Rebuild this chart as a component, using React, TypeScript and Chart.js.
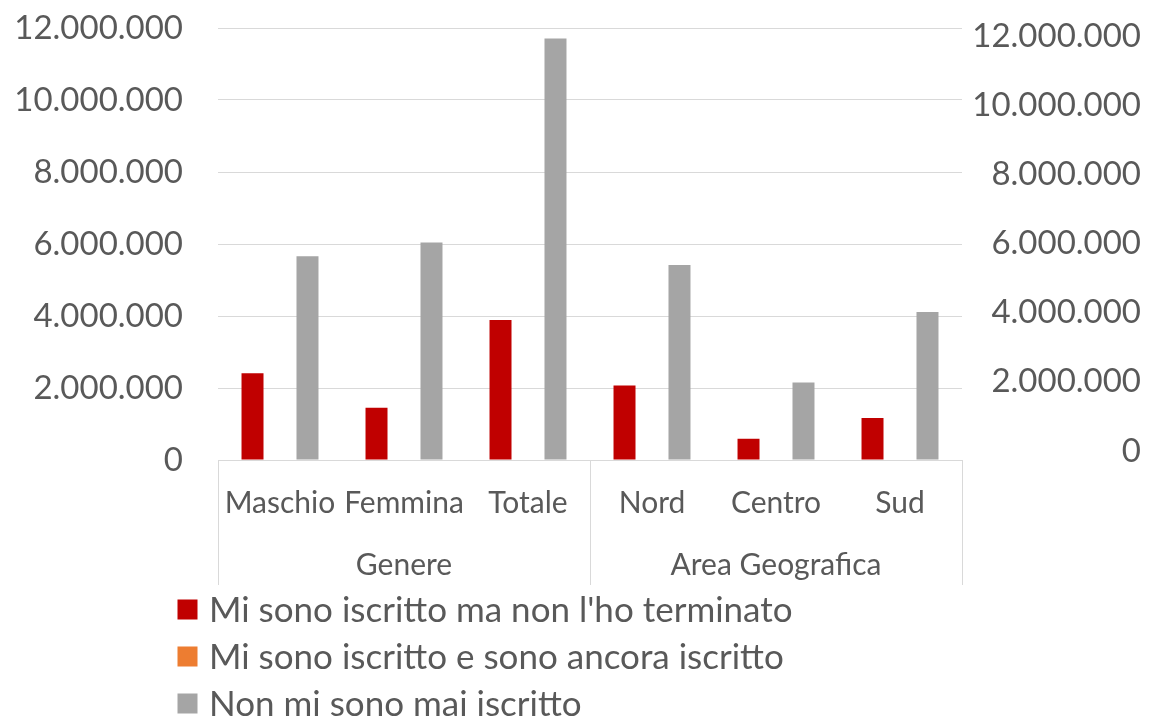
import React, { useEffect, useRef } from "react";
import { Chart, registerables } from "chart.js";

Chart.register(...registerables);

// ---- data ----
const categories = ["Maschio", "Femmina", "Totale", "Nord", "Centro", "Sud"];
const groupLabels = ["Genere", "Area Geografica"];
const groupSizes = [3, 3];
const seriesNames = [
  "Mi sono iscritto ma non l'ho terminato",
  "Mi sono iscritto e sono ancora iscritto",
  "Non mi sono mai iscritto",
];
const notFinished = [2410000, 1450000, 3890000, 2070000, 590000, 1170000];
const stillEnrolled = [0, 0, 0, 0, 0, 0];
const neverEnrolled = [5660000, 6040000, 11710000, 5420000, 2150000, 4110000];
const leftTicks = [0, 2000000, 4000000, 6000000, 8000000, 10000000, 12000000];
const rightTicks = [0, 2000000, 4000000, 6000000, 8000000, 10000000, 12000000];

// ---- styles ----
const FONT = "Lato";
const TEXT = "#595959";
const LINE = "#D9D9D9";
const CLEAR = "rgba(0,0,0,0)";
const COLORS = ["#C00000", "#ED7D31", "#A5A5A5"];

const fmt = (v: number) =>
  String(Math.round(v)).replace(/\B(?=(\d{3})+(?!\d))/g, ".");

const groupPlugin = {
  id: "groupAxis",
  afterDraw(chart: any) {
    const ctx = chart.ctx;
    const xs = chart.scales.x;
    const area = chart.chartArea;
    const cw = (xs.right - xs.left) / categories.length;
    ctx.save();
    ctx.strokeStyle = LINE;
    ctx.lineWidth = 1;
    let start = 0;
    const bounds: number[] = [start];
    groupSizes.forEach((n) => {
      start += n;
      bounds.push(start);
    });
    bounds.forEach((b) => {
      const px = Math.round(xs.left + b * cw) + 0.5;
      ctx.beginPath();
      ctx.moveTo(px, area.bottom);
      ctx.lineTo(px, xs.bottom);
      ctx.stroke();
    });
    ctx.fillStyle = TEXT;
    ctx.font = `30px ${FONT}`;
    ctx.textAlign = "center";
    ctx.textBaseline = "middle";
    groupLabels.forEach((g, i) => {
      const l = xs.left + bounds[i] * cw;
      const r = xs.left + bounds[i + 1] * cw;
      ctx.fillText(g, (l + r) / 2, 565);
    });
    ctx.restore();
  },
};

const legendPlugin = {
  id: "stackLegend",
  afterDraw(chart: any) {
    const ctx = chart.ctx;
    ctx.save();
    ctx.font = `35px ${FONT}`;
    ctx.textAlign = "left";
    ctx.textBaseline = "middle";
    chart.data.datasets.forEach((ds: any, i: number) => {
      const cy = 609.5 + i * 47;
      ctx.fillStyle = ds.backgroundColor;
      ctx.fillRect(177.5, cy - 10, 20, 20);
      ctx.fillStyle = TEXT;
      ctx.fillText(ds.label, 209, cy + 1);
    });
    ctx.restore();
  },
};

export default function App() {
  const ref = useRef<HTMLCanvasElement | null>(null);

  useEffect(() => {
    if (!ref.current) return;
    const chart = new Chart(ref.current, {
      type: "bar",
      data: {
        labels: categories,
        datasets: [
          {
            label: seriesNames[0],
            data: notFinished,
            backgroundColor: COLORS[0],
            yAxisID: "y",
          },
          {
            label: seriesNames[1],
            data: stillEnrolled,
            backgroundColor: COLORS[1],
            yAxisID: "y2",
          },
          {
            label: seriesNames[2],
            data: neverEnrolled,
            backgroundColor: COLORS[2],
            yAxisID: "y",
          },
        ],
      },
      options: {
        responsive: false,
        animation: false,
        devicePixelRatio: 1,
        layout: { padding: { left: 0, right: 8, top: 28, bottom: 132 } },
        datasets: {
          bar: { categoryPercentage: 0.665, barPercentage: 0.8, borderWidth: 0 },
        },
        plugins: {
          legend: { display: false },
          tooltip: { enabled: false },
        },
        scales: {
          x: {
            grid: { display: false, drawTicks: false },
            border: { display: true, color: LINE, width: 1 },
            ticks: {
              color: TEXT,
              font: { family: FONT, size: 30 },
              padding: 25,
              autoSkip: false,
              maxRotation: 0,
              minRotation: 0,
            },
            afterFit: (s: any) => {
              s.height = 125;
            },
          },
          y: {
            position: "left",
            min: 0,
            max: 12000000,
            grid: {
              color: LINE,
              lineWidth: 1,
              drawTicks: true,
              tickLength: 35,
              tickColor: CLEAR,
            },
            border: { display: false },
            ticks: {
              color: TEXT,
              font: { family: FONT, size: 33 },
              padding: 0,
              callback: (v: any) => fmt(Number(v)),
            },
            afterBuildTicks: (s: any) => {
              s.ticks = leftTicks.map((v) => ({ value: v }));
            },
            afterFit: (s: any) => {
              s.width = 218;
            },
          },
          y2: {
            position: "right",
            min: -260000,
            max: 12231000,
            grid: { display: false, drawTicks: false, drawOnChartArea: false },
            border: { display: false },
            ticks: {
              color: TEXT,
              font: { family: FONT, size: 33 },
              padding: 0,
              crossAlign: "far",
              callback: (v: any) => fmt(Number(v)),
            },
            afterBuildTicks: (s: any) => {
              s.ticks = rightTicks.map((v) => ({ value: v }));
            },
            afterFit: (s: any) => {
              s.width = 179;
            },
          },
        },
      } as any,
      plugins: [groupPlugin, legendPlugin],
    });
    return () => chart.destroy();
  }, []);

  return (
    <div
      style={{
        position: "fixed",
        left: 0,
        top: 0,
        width: 1149,
        height: 717,
        background: "#ffffff",
      }}
    >
      <canvas ref={ref} width={1149} height={717} style={{ display: "block" }} />
    </div>
  );
}
